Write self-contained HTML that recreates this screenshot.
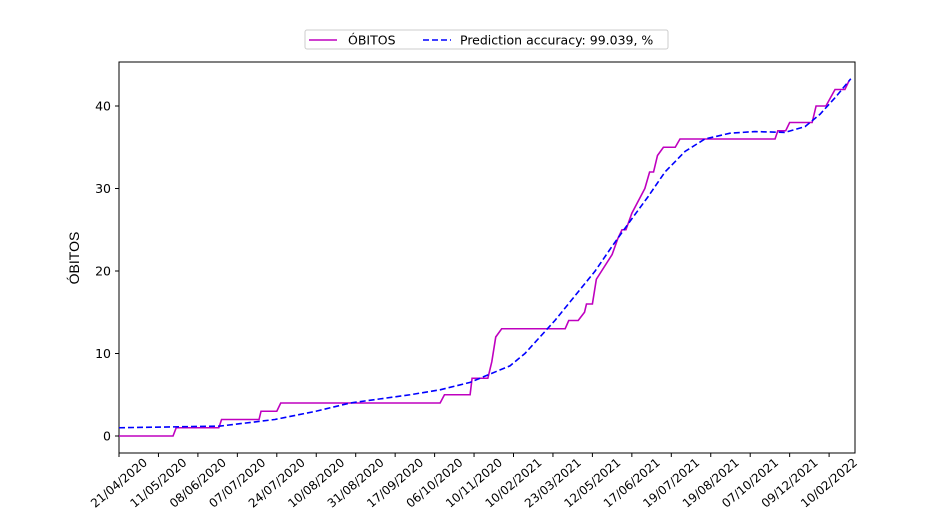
<!DOCTYPE html>
<html><head><meta charset="utf-8"><style>
body{margin:0;background:#fff}
svg{display:block;font-family:"DejaVu Sans","Liberation Sans",sans-serif}
</style></head><body>
<svg id="c" width="950" height="510"></svg>
<script>
const tickLabels=["21/04/2020","11/05/2020","08/06/2020","07/07/2020","24/07/2020","10/08/2020","31/08/2020","17/09/2020","06/10/2020","10/11/2020","10/02/2021","23/03/2021","12/05/2021","17/06/2021","19/07/2021","19/08/2021","07/10/2021","09/12/2021","10/02/2022"];
const yTicks=[0,10,20,30,40];
const obitosX=[0,1.37,1.45,2.53,2.6,3.55,3.6,4.0,4.1,8.14,8.25,8.9,8.95,9.35,9.45,9.55,9.7,11.31,11.4,11.64,11.8,11.85,12.0,12.1,12.5,12.65,12.75,12.85,13.0,13.33,13.45,13.55,13.65,13.8,14.1,14.22,16.63,16.7,16.9,17.0,17.57,17.67,17.92,18.15,18.4,18.5];
const obitosY=[0,0,1,1,2,2,3,3,4,4,5,5,7,7,9,12,13,13,14,14,15,16,16,19,22,24,25,25,27,30,32,32,34,35,35,36,36,37,37,38,38,40,40,42,42,43];
const predX=[0,2.56,3.95,4.99,5.86,6.62,7.38,8.14,8.9,9.4,9.91,10.29,10.67,11.05,11.56,12.07,12.5,12.95,13.41,13.84,14.35,14.85,15.49,16.12,16.88,17.39,17.77,18.15,18.55];
const predY=[1,1.2,2,3,4,4.5,5,5.6,6.5,7.5,8.5,10,12,14,17,20,23,26,29,32,34.5,36,36.7,36.9,36.8,37.5,39,41,43.3];

const L=119,R=855,T=62,B=453;
const xs=i=>119+i*39.45;
const ys=v=>436-v*8.25;
const svg=document.getElementById('c');
const NS='http://www.w3.org/2000/svg';
function mk(t,a,p){const e=document.createElementNS(NS,t);for(const k in a)e.setAttribute(k,a[k]);(p||svg).appendChild(e);return e;}

const frame=mk('rect',{x:L,y:T,width:R-L,height:B-T,fill:'none',stroke:'#000','stroke-width':1});



tickLabels.forEach((lab,i)=>{
  const x=xs(i);
  const tk=mk('line',{x1:x,x2:x,y1:B,y2:B+4,stroke:'#000'});
  
  
  const cy=B+30;
  const t=mk('text',{x:x,y:cy+4,'font-size':12,'text-anchor':'middle',transform:`rotate(-40 ${x} ${cy})`});
  t.textContent=lab;
  
  
});
yTicks.forEach(v=>{
  const y=ys(v);
  const tk=mk('line',{x1:L-4,x2:L,y1:y,y2:y,stroke:'#000'});
  
  
  const t=mk('text',{x:L-8,y:y+4.5,'font-size':12.5,'text-anchor':'end'});
  t.textContent=v;
  
  
});
const yl=mk('text',{x:79,y:258,'font-size':14,'text-anchor':'middle',transform:'rotate(-90 79 258)','font-family':'Liberation Sans, sans-serif'});
yl.textContent='ÓBITOS';



const p1=mk('polyline',{points:obitosX.map((x,i)=>xs(x)+','+ys(obitosY[i])).join(' '),fill:'none',stroke:'#bf00bf','stroke-width':1.6});


const p2=mk('polyline',{points:predX.map((x,i)=>xs(x)+','+ys(predY[i])).join(' '),fill:'none',stroke:'#0000ff','stroke-width':1.6,'stroke-dasharray':'6,3'});



const lg=mk('g',{});


mk('rect',{x:305,y:30,width:363,height:19,rx:2,fill:'#fff',stroke:'#ccc'},lg);
mk('line',{x1:309,x2:337,y1:40,y2:40,stroke:'#bf00bf','stroke-width':1.6},lg);
const t1=mk('text',{x:348,y:44.5,'font-size':12.5},lg);
t1.textContent='ÓBITOS';


mk('line',{x1:423,x2:451,y1:40,y2:40,stroke:'#0000ff','stroke-width':1.6,'stroke-dasharray':'6,3'},lg);
const t2=mk('text',{x:460,y:44.5,'font-size':12.5},lg);
t2.textContent='Prediction accuracy: 99.039, %';


</script>
</body></html>
